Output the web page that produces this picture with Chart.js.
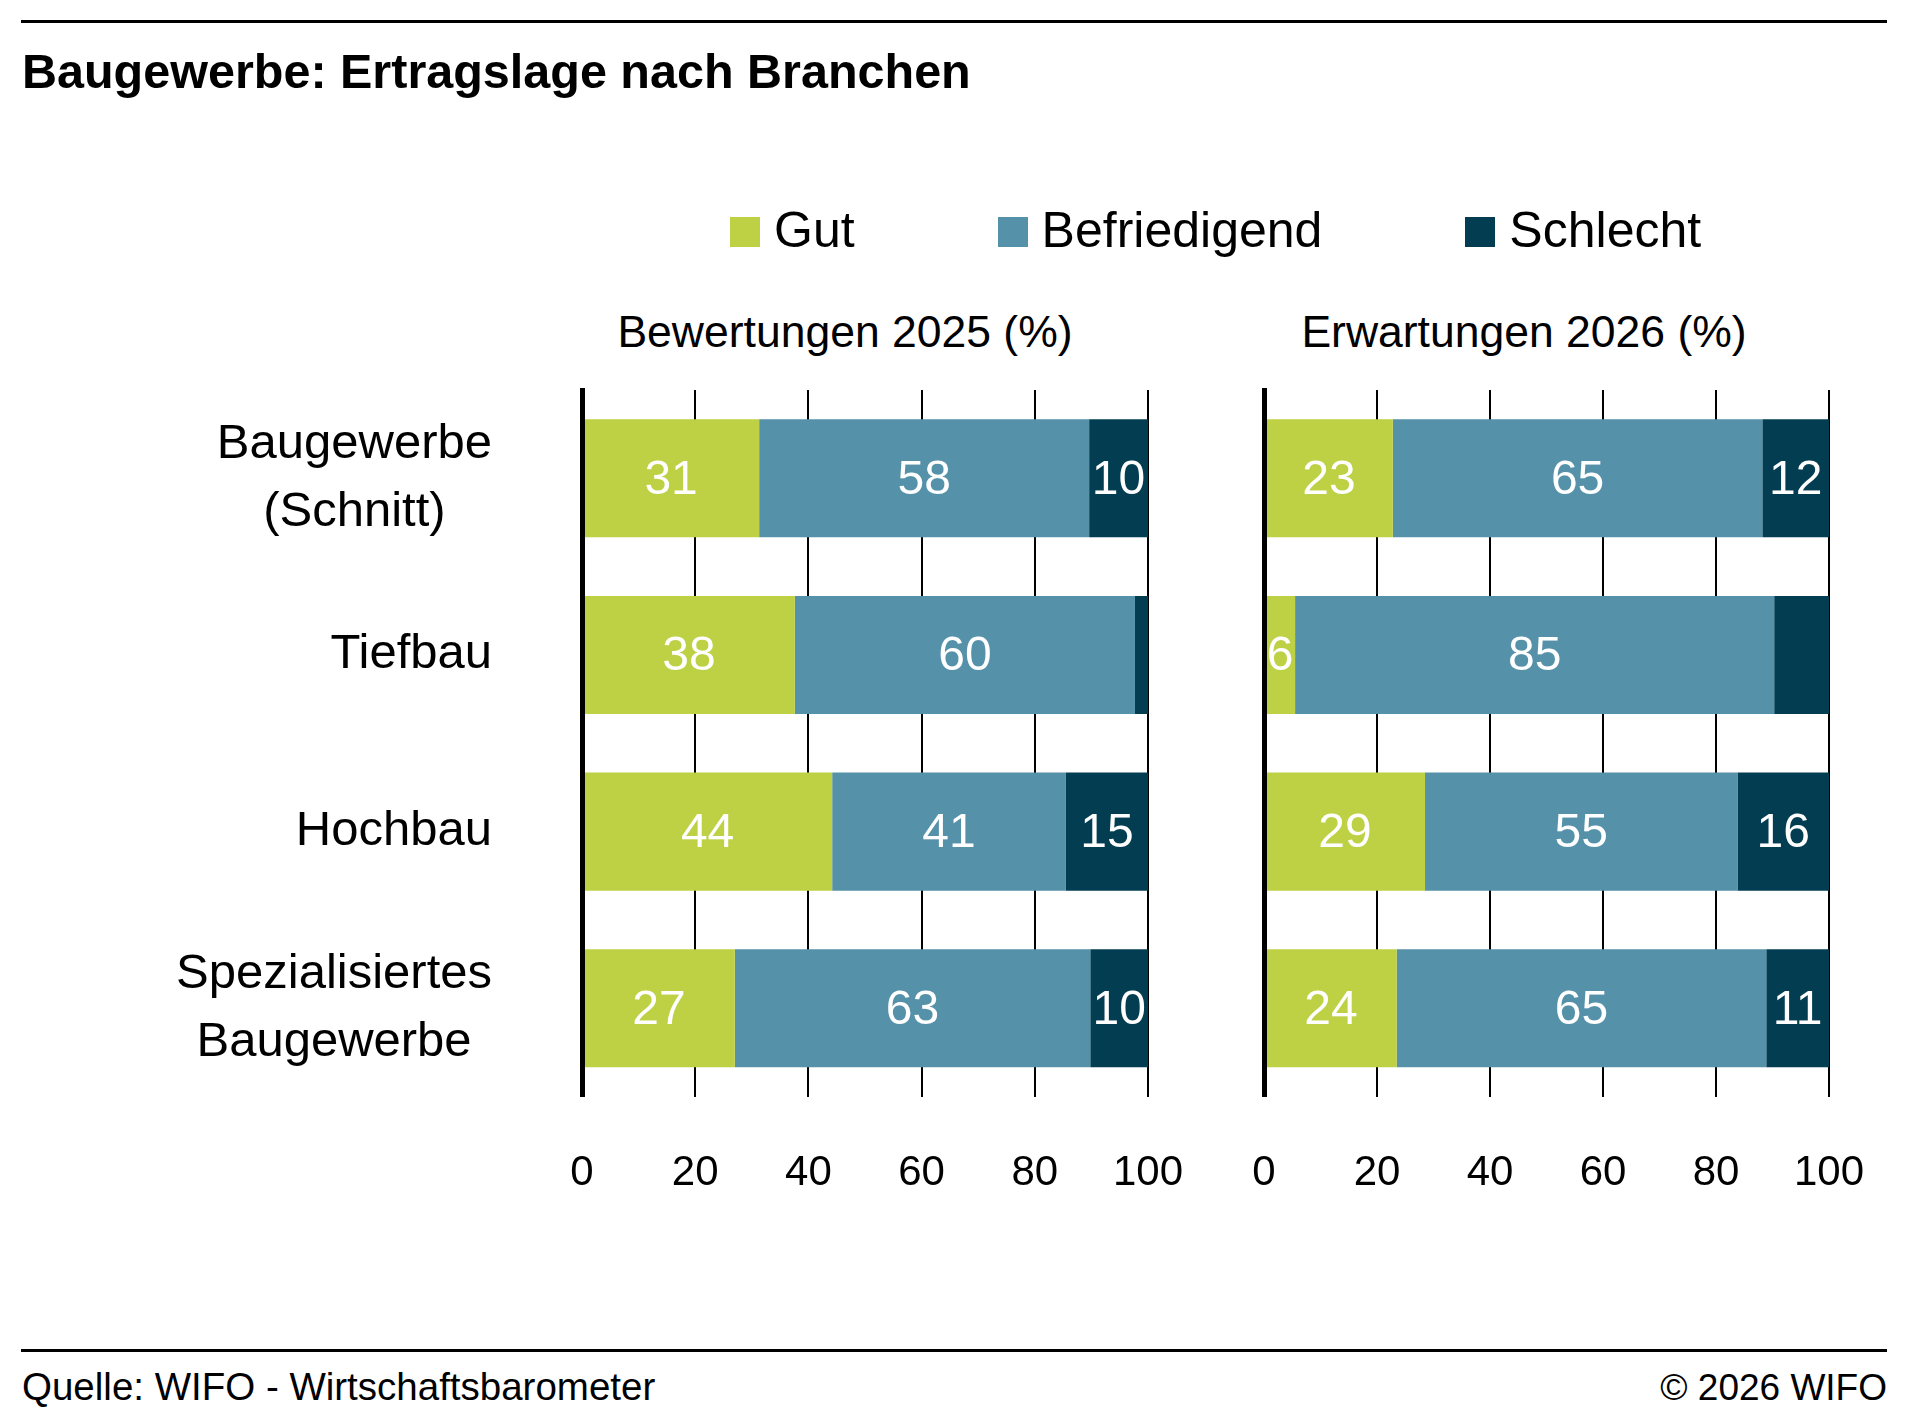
<!DOCTYPE html>
<html lang="de">
<head>
<meta charset="utf-8">
<title>Baugewerbe: Ertragslage nach Branchen</title>
<script src="https://cdn.jsdelivr.net/npm/chart.js@4.4.1/dist/chart.umd.min.js"></script>
<style>
    html, body { margin: 0; padding: 0; background: #fff; }
    body {
        width: 1920px; height: 1416px; position: relative; overflow: hidden;
        font-family: 'Liberation Sans', Arial, sans-serif; color: #000;
    }
    .txt { position: absolute; line-height: 1; white-space: nowrap; }
    .rule { position: absolute; left: 21px; width: 1866px; background: #000; }
    #title { left: 22px; top: 47px; font-size: 48.5px; font-weight: bold; }
    #legend { position: absolute; left: 730px; top: 205px; display: flex; gap: 143px; font-size: 50px; line-height: 1; }
    .legend-item { display: flex; align-items: flex-start; }
    .legend-box { width: 30px; height: 30px; margin: 12px 14px 0 0; }
    .subtitle { width: 600px; text-align: center; top: 310px; font-size: 44.5px; }
    .footer { top: 1369px; font-size: 37px; }
    .panel { position: absolute; top: 370px; height: 888px; }
</style>
</head>
<body>

<div class="rule" style="top:20px;height:3px"></div>
<div id="title" class="txt">Baugewerbe: Ertragslage nach Branchen</div>

<div id="legend"></div>

<div class="txt subtitle" id="sub2025" style="left:545px"></div>
<div class="txt subtitle" id="sub2026" style="left:1224px"></div>

<div class="panel" style="left:0;width:1240px"><canvas id="chart2025" width="1240" height="888"></canvas></div>
<div class="panel" style="left:1200px;width:720px"><canvas id="chart2026" width="720" height="888"></canvas></div>

<div class="rule" style="top:1349px;height:3px"></div>
<div class="txt footer" style="left:22px;top:1368px;font-size:38.5px">Quelle: WIFO - Wirtschaftsbarometer</div>
<div class="txt footer" style="right:33px">© 2026 WIFO</div>

<script>
// ── Data ──────────────────────────────────────────────────────────────────────

const categories = [['Baugewerbe', '(Schnitt)'], 'Tiefbau', 'Hochbau', ['Spezialisiertes', 'Baugewerbe']];
const seriesNames = ['Gut', 'Befriedigend', 'Schlecht'];
const seriesColors = ['#bed044', '#5592aa', '#033d52'];
const panelTitles = ['Bewertungen 2025 (%)', 'Erwartungen 2026 (%)'];
const xTicks = [0, 20, 40, 60, 80, 100];

const gut2025 = [31.3, 37.6, 44.2, 27.0];
const befriedigend2025 = [58.3, 60.1, 41.3, 62.8];
const schlecht2025 = [10.4, 2.3, 14.5, 10.2];

const gut2026 = [22.8, 5.5, 28.5, 23.5];
const befriedigend2026 = [65.4, 84.8, 55.3, 65.4];
const schlecht2026 = [11.8, 9.7, 16.2, 11.1];

// smallest value per series that still gets a number in the bar
const labelMin = [5, 5, 10];

const FONT = "'Liberation Sans', Arial, sans-serif";

// ── Header / legend ───────────────────────────────────────────────────────────

document.getElementById('legend').innerHTML = seriesNames
    .map((name, i) => `<div class="legend-item"><span class="legend-box" style="background:${seriesColors[i]}"></span>${name}</div>`)
    .join('');
document.getElementById('sub2025').textContent = panelTitles[0];
document.getElementById('sub2026').textContent = panelTitles[1];

// ── Plugins ───────────────────────────────────────────────────────────────────

// white value labels centred in each segment
const barLabelPlugin = {
    id: 'barLabels',
    afterDatasetsDraw(chart) {
        const { ctx } = chart;
        ctx.save();
        ctx.font = `48px ${FONT}`;
        ctx.fillStyle = '#fff';
        ctx.textAlign = 'center';
        ctx.textBaseline = 'middle';
        chart.data.datasets.forEach((ds, di) => {
            chart.getDatasetMeta(di).data.forEach((bar, i) => {
                const v = ds.data[i];
                if (v < labelMin[di]) return;
                const { x, y } = bar.getCenterPoint();
                ctx.fillText(String(Math.round(v)), x, y + 2);
            });
        });
        ctx.restore();
    },
};

// category names: block right-aligned to the axis, lines centred in the block
const categoryLabelPlugin = {
    id: 'categoryLabels',
    afterDraw(chart) {
        const { ctx } = chart;
        const yScale = chart.scales.y;
        const labelRight = 492;
        ctx.save();
        ctx.font = `49px ${FONT}`;
        ctx.fillStyle = '#000';
        ctx.textAlign = 'center';
        ctx.textBaseline = 'middle';
        categories.forEach((label, i) => {
            const lines = [].concat(label);
            const w = Math.max(...lines.map((l) => ctx.measureText(l).width));
            const cx = labelRight - w / 2;
            const cy = yScale.getPixelForValue(i);
            lines.forEach((line, j) => {
                ctx.fillText(line, cx, cy + (j - (lines.length - 1) / 2) * 68);
            });
        });
        ctx.restore();
    },
};

// ── Panels ────────────────────────────────────────────────────────────────────

function createPanel(canvasId, seriesData, padding, extraPlugins) {
    return new Chart(document.getElementById(canvasId), {
        type: 'bar',
        data: {
            labels: categories,
            datasets: seriesData.map((data, i) => ({
                label: seriesNames[i],
                data,
                backgroundColor: seriesColors[i],
                borderWidth: 0,
                barPercentage: 1,
                categoryPercentage: 0.668,
            })),
        },
        options: {
            indexAxis: 'y',
            responsive: false,
            animation: false,
            devicePixelRatio: 1,
            layout: { padding },
            plugins: {
                legend: { display: false },
                tooltip: { enabled: false },
            },
            scales: {
                x: {
                    stacked: true,
                    min: xTicks[0],
                    max: xTicks[xTicks.length - 1],
                    afterBuildTicks(scale) {
                        scale.ticks = xTicks.map((value) => ({ value }));
                    },
                    grid: { color: '#000', lineWidth: 2, drawTicks: false },
                    border: { display: false },
                    ticks: {
                        padding: 52,
                        color: '#000',
                        font: { family: FONT, size: 42 },
                    },
                },
                y: {
                    stacked: true,
                    grid: { display: false, drawTicks: false },
                    border: { display: true, color: '#000', width: 5, z: 1 },
                    ticks: { display: false },
                },
            },
        },
        plugins: [barLabelPlugin, ...extraPlugins],
    });
}

createPanel(
    'chart2025',
    [gut2025, befriedigend2025, schlecht2025],
    { left: 582, right: 92, top: 20, bottom: 7 },
    [categoryLabelPlugin],
);

createPanel(
    'chart2026',
    [gut2026, befriedigend2026, schlecht2026],
    { left: 64, right: 91, top: 20, bottom: 7 },
    [],
);
</script>
</body>
</html>
